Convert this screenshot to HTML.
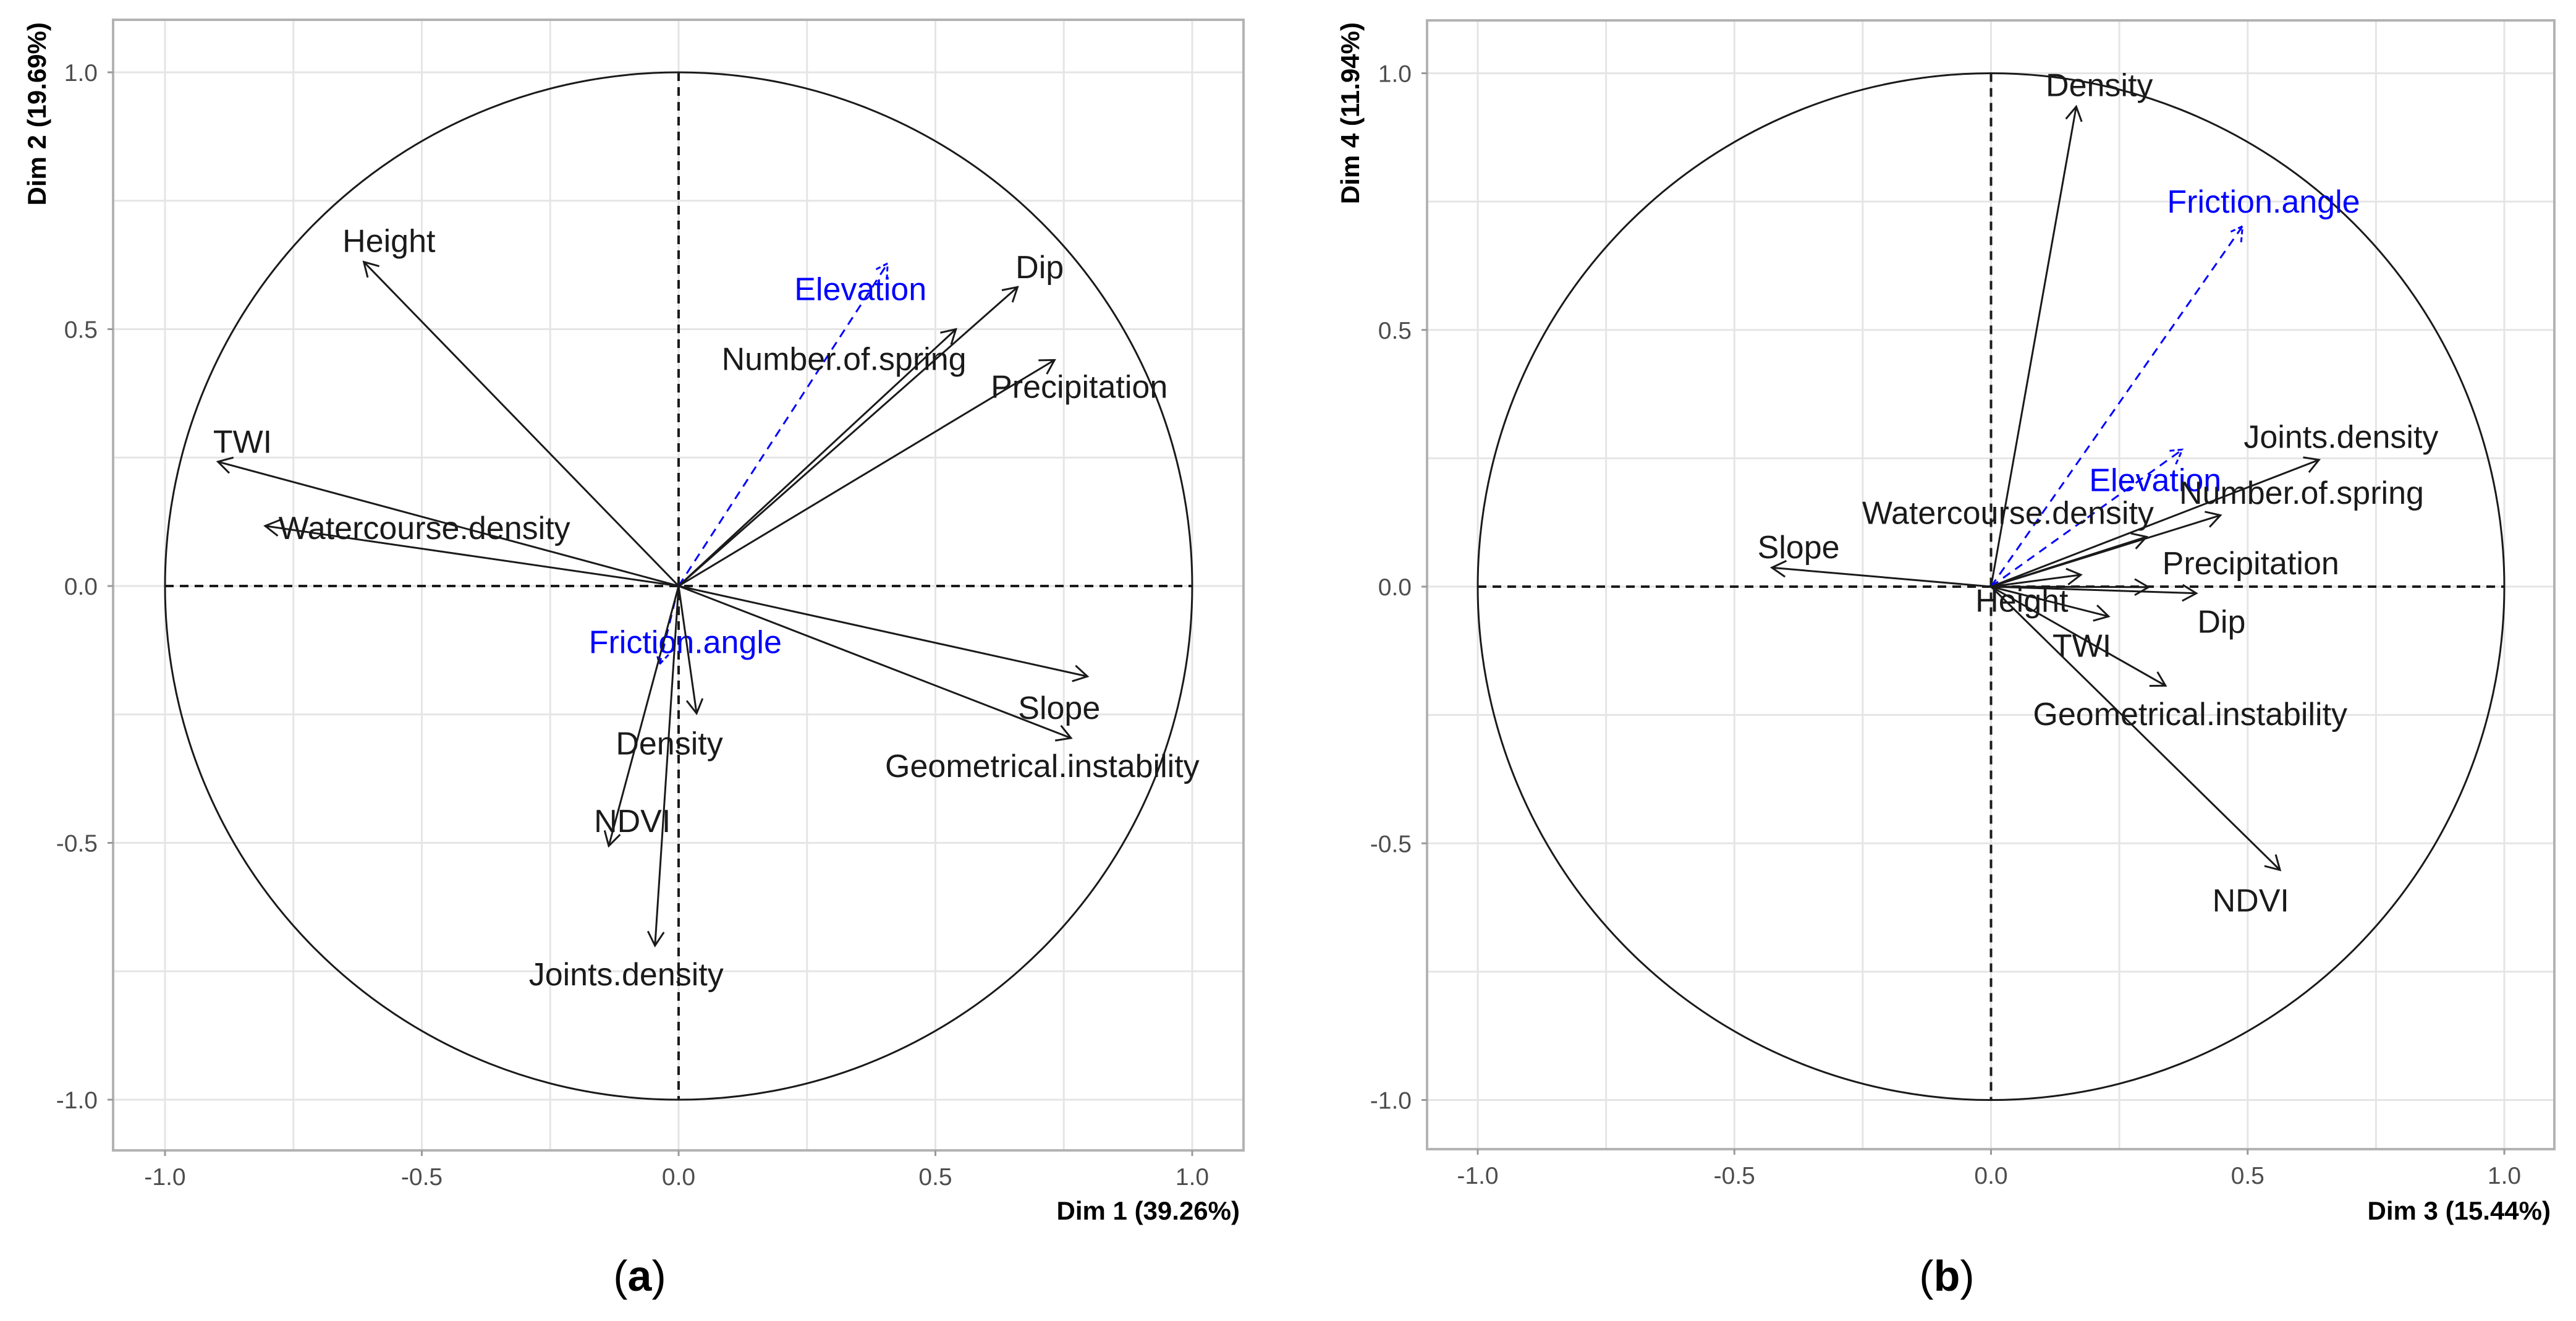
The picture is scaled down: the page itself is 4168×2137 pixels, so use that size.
<!DOCTYPE html>
<html><head><meta charset="utf-8"><style>
html,body{margin:0;padding:0;background:#fff;}
svg{display:block;}
text{font-family:"Liberation Sans",sans-serif;}
</style></head><body>
<svg id="fig" width="4168" height="2137" viewBox="0 0 4168 2137" xmlns="http://www.w3.org/2000/svg"></svg>
<script>
// Panel (a): Dim1 vs Dim2
const namesA = ["Height","TWI","Watercourse.density","Elevation","Dip","Number.of.spring","Precipitation","Slope","Geometrical.instability","Friction.angle","Density","NDVI","Joints.density"];
const xA = [-0.613,-0.897,-0.805,0.407,0.660,0.540,0.732,0.796,0.764,-0.037,0.035,-0.136,-0.046];
const yA = [0.631,0.242,0.117,0.628,0.582,0.500,0.440,-0.176,-0.296,-0.152,-0.248,-0.506,-0.700];
const suppA = [false,false,false,true,false,false,false,false,false,true,false,false,false];
const lxA = [-0.564,-0.849,-0.495,0.354,0.703,0.322,0.780,0.741,0.708,0.013,-0.018,-0.090,-0.102];
const lyA = [0.672,0.281,0.113,0.578,0.621,0.442,0.388,-0.237,-0.350,-0.109,-0.306,-0.457,-0.756];
// Panel (b): Dim3 vs Dim4
const namesB = ["Density","Friction.angle","Elevation","Joints.density","Number.of.spring","Watercourse.density","Slope","Height","Precipitation","Dip","TWI","Geometrical.instability","NDVI"];
const xB = [0.166,0.490,0.373,0.639,0.447,0.303,-0.427,0.175,0.307,0.400,0.229,0.340,0.563];
const yB = [0.935,0.702,0.267,0.247,0.139,0.097,0.037,0.023,-0.001,-0.013,-0.058,-0.193,-0.552];
const suppB = [false,true,true,false,false,false,false,false,false,false,false,false,false];
const lxB = [0.211,0.531,0.320,0.682,0.605,0.033,-0.375,0.060,0.506,0.449,0.177,0.388,0.506];
const lyB = [0.977,0.750,0.208,0.292,0.183,0.144,0.077,-0.027,0.046,-0.068,-0.115,-0.248,-0.611];
const tickVals = [-1.0,-0.5,0.0,0.5,1.0];
const tickLabels = ["-1.0","-0.5","0.0","0.5","1.0"];

const NS="http://www.w3.org/2000/svg";
const svg=document.getElementById('fig');
function mk(tag,attrs,parent){const e=document.createElementNS(NS,tag);for(const k in attrs)e.setAttribute(k,attrs[k]);(parent||svg).appendChild(e);return e;}

function drawPanel(p){
  const g=mk('g',{});
  
  
  const U=p.unit;
  const sx=v=>p.x0+v*U, sy=v=>p.y0-v*U;
  for(let v=-1;v<=1.0001;v+=0.25){
    const gx=mk('line',{x1:sx(v),x2:sx(v),y1:p.top,y2:p.bottom,stroke:'#e5e5e5','stroke-width':3},g);
    
    
    const gy=mk('line',{x1:p.left,x2:p.right,y1:sy(v),y2:sy(v),stroke:'#e5e5e5','stroke-width':3},g);
    
    
  }
  const border=mk('rect',{x:p.left,y:p.top,width:p.right-p.left,height:p.bottom-p.top,fill:'none',stroke:'#b3b3b3','stroke-width':4},g);
  
  
  tickVals.forEach((v,i)=>{
    mk('line',{x1:sx(v),x2:sx(v),y1:p.bottom,y2:p.bottom+9,stroke:'#999','stroke-width':3},g);
    const tx=mk('text',{x:sx(v),y:p.bottom+56,'text-anchor':'middle','font-size':39,fill:'#4d4d4d'},g);
    tx.textContent=tickLabels[i];
    
    
    mk('line',{x1:p.left-9,x2:p.left,y1:sy(v),y2:sy(v),stroke:'#999','stroke-width':3},g);
    const ty=mk('text',{x:p.left-25,y:sy(v)+14,'text-anchor':'end','font-size':39,fill:'#4d4d4d'},g);
    ty.textContent=tickLabels[i];
    
    
  });
  const c=mk('circle',{cx:p.x0,cy:p.y0,r:U,fill:'none',stroke:'#1a1a1a','stroke-width':3},g);
  
  
  const h=mk('line',{x1:sx(-1),x2:sx(1),y1:p.y0,y2:p.y0,stroke:'#1a1a1a','stroke-width':4,'stroke-dasharray':'14 10'},g);
  
  
  const vl=mk('line',{x1:p.x0,x2:p.x0,y1:sy(1),y2:sy(-1),stroke:'#1a1a1a','stroke-width':4,'stroke-dasharray':'14 10'},g);
  
  
  p.names.forEach((n,i)=>{
    const col=p.supp[i]?'#0000ff':'#1a1a1a';
    const X=sx(p.xs[i]),Y=sy(p.ys[i]);
    const ag=mk('g',{},g);
    
    
    const la={x1:p.x0,y1:p.y0,x2:X,y2:Y,stroke:col,'stroke-width':3};
    if(p.supp[i]) la['stroke-dasharray']='14 10';
    mk('line',la,ag);
    const ang=Math.atan2(Y-p.y0,X-p.x0), L=26, a=Math.PI/6;
    const hp=`M${X-L*Math.cos(ang-a)},${Y-L*Math.sin(ang-a)} L${X},${Y} L${X-L*Math.cos(ang+a)},${Y-L*Math.sin(ang+a)}`;
    const ha={d:hp,fill:'none',stroke:col,'stroke-width':3};
    if(p.supp[i]) ha['stroke-dasharray']='8 5';
    mk('path',ha,ag);
    const t=mk('text',{x:sx(p.lx[i]),y:sy(p.ly[i])+18,'text-anchor':'middle','font-size':52,fill:p.supp[i]?'#0000ff':'#1a1a1a'},g);
    t.textContent=n;
    
    
  });
  const xt=mk('text',{x:p.right-6,y:1973,'text-anchor':'end','font-size':42,'font-weight':'bold',fill:'#000'},g);
  xt.textContent=p.xTitle;
  
  
  const yt=mk('text',{x:0,y:0,'text-anchor':'end','font-size':42,'font-weight':'bold',fill:'#000',transform:`translate(${p.ytx},36) rotate(-90)`},g);
  yt.textContent=p.yTitle;
  
  
  const cap=mk('text',{x:p.capX,y:2088,'text-anchor':'middle','font-size':70,fill:'#000','font-family':'Liberation Serif, serif'},g);
  cap.innerHTML='(<tspan font-weight="bold">'+p.cap+'</tspan>)';
  
  
}

drawPanel({id:'panel-a',left:183,right:2012,top:32,bottom:1861,x0:1098,y0:948,unit:831,
  names:namesA,xs:xA,ys:yA,supp:suppA,lx:lxA,ly:lyA,xTitle:'Dim 1 (39.26%)',yTitle:'Dim 2 (19.69%)',ytx:74,capX:1035,cap:'a'});
drawPanel({id:'panel-b',left:2309,right:4133,top:33,bottom:1859,x0:3221.5,y0:949,unit:830.5,
  names:namesB,xs:xB,ys:yB,supp:suppB,lx:lxB,ly:lyB,xTitle:'Dim 3 (15.44%)',yTitle:'Dim 4 (11.94%)',ytx:2199,capX:3150,cap:'b'});
</script>
</body></html>
